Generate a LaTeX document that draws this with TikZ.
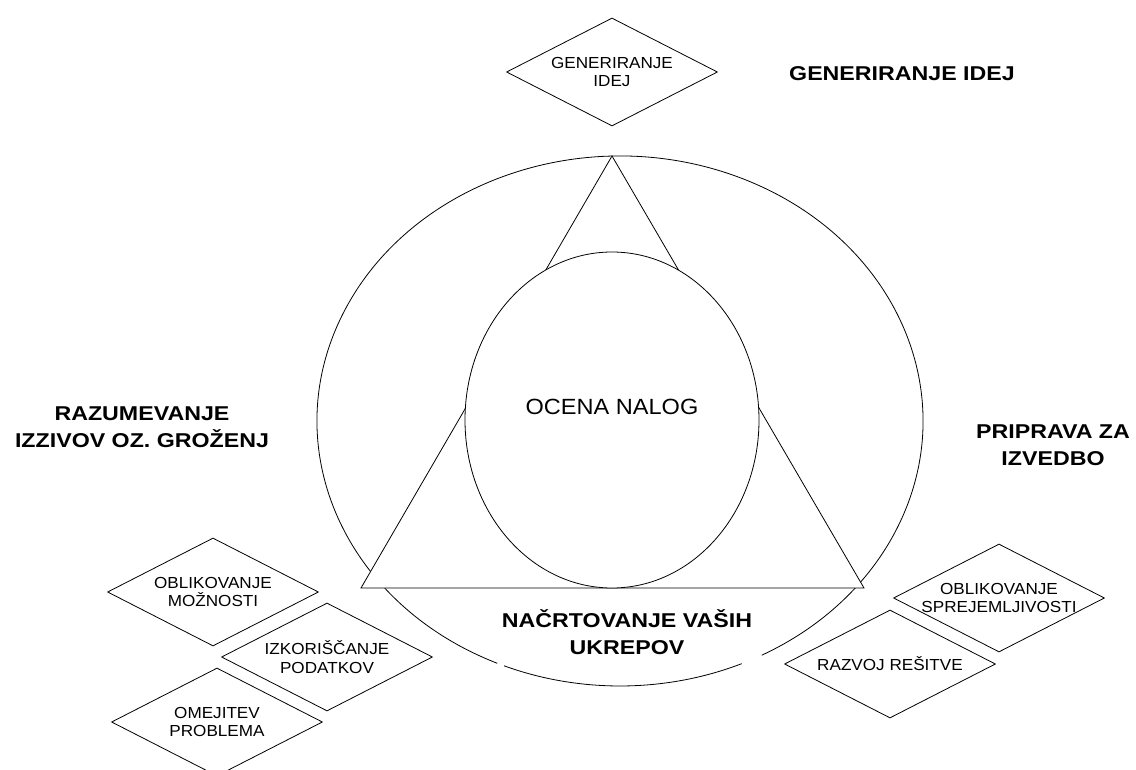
\documentclass[tikz,border=0pt]{standalone}
\usepackage{fontspec}
\setmainfont{Liberation Sans}
\newfontfamily\boxfont[FakeStretch=1.07]{Liberation Sans}
\newfontfamily\headfont[FakeStretch=1.16]{Liberation Sans}
\usetikzlibrary{shapes.geometric}
\begin{document}
\begin{tikzpicture}[x=1pt,y=-1pt,line width=0.8pt,
  choice/.style={draw,diamond,minimum width=211,minimum height=108,inner sep=0pt},
  choicetext/.style={align=center,inner sep=0pt,font=\boxfont\fontsize{16}{18.5}\selectfont},
  phase/.style={align=center,inner sep=0pt,font=\headfont\bfseries\fontsize{20}{27}\selectfont}]
\useasboundingbox (0,0) rectangle (1136,770);
\clip (0,0) rectangle (1136,770);

% outer cycle, broken below the bottom label
\draw (620,421) ++(113.9:303 and 265)
  arc[start angle=113.9,end angle=422.1,x radius=303,y radius=265];
\draw (620,421) ++(66.3:303 and 265)
  arc[start angle=66.3,end angle=112.5,x radius=303,y radius=265];

% triangle, white inside so it hides the cycle behind it
\coordinate (apex) at (612,156);
\coordinate (bl) at (361,588);
\coordinate (br) at (864,588);
\draw[fill=white] (apex) -- (bl) -- (br) -- cycle;

% centre
\node[draw,fill=white,ellipse,minimum width=294,minimum height=336,inner sep=0pt]
  (core) at (612,420) {};
\node[inner sep=0pt,font=\boxfont\fontsize{22}{26}\selectfont] (corelbl) at (612,407) {OCENA NALOG};

% option diamonds
\node[choice] (gen) at (612,72) {};
\node[choicetext] (gent) at (gen) {GENERIRANJE\\IDEJ};
\node[choice] (mozn) at (213,592) {};
\node[choicetext] (moznt) at (mozn) {OBLIKOVANJE\\MOŽNOSTI};
\node[choice] (pod) at (327,657) {};
\node[choicetext] (podt) at (pod) {IZKORIŠČANJE\\PODATKOV};
\node[choice] (prob) at (217,722) {};
\node[choicetext] (probt) at (prob) {OMEJITEV\\PROBLEMA};
\node[choice] (spre) at (999,598) {};
\node[choicetext] (spret) at (spre) {OBLIKOVANJE\\SPREJEMLJIVOSTI};
\node[choice] (raz) at (890,664) {};
\node[choicetext] (razt) at (raz) {RAZVOJ REŠITVE};

% phase labels
\node[phase] (lgen) at (902,74) {GENERIRANJE IDEJ};
\node[phase] (lraz) at (142,427) {RAZUMEVANJE\\IZZIVOV OZ. GROŽENJ};
\node[phase] (lpri) at (1053,445) {PRIPRAVA ZA\\IZVEDBO};
\node[phase] (lnac) at (627,632) {NAČRTOVANJE VAŠIH\\UKREPOV};
\end{tikzpicture}
\end{document}
